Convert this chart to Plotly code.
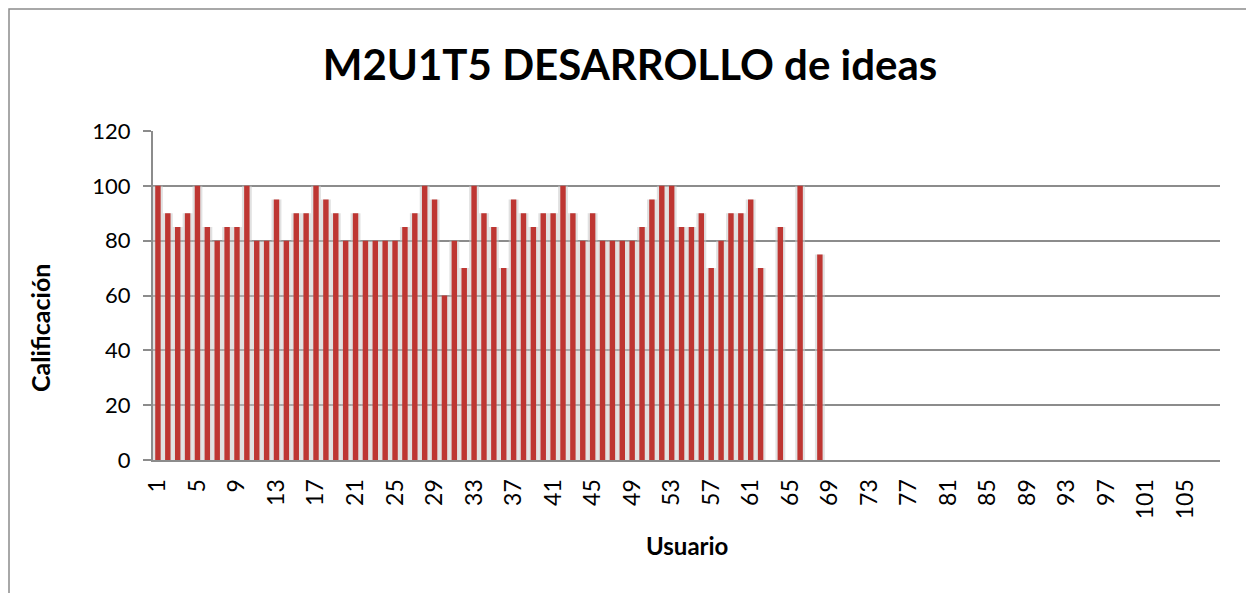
import plotly.graph_objects as go

# Data
usuarios = [str(i) for i in range(1, 109)]
calif_1_62 = [100, 90, 85, 90, 100, 85, 80, 85, 85, 100,
              80, 80, 95, 80, 90, 90, 100, 95, 90, 80,
              90, 80, 80, 80, 80, 85, 90, 100, 95, 60,
              80, 70, 100, 90, 85, 70, 95, 90, 85, 90,
              90, 100, 90, 80, 90, 80, 80, 80, 80, 85,
              95, 100, 100, 85, 85, 90, 70, 80, 90, 90,
              95, 70]
calif_63_68 = [None, 85, None, 100, None, 75]
calificacion = calif_1_62 + calif_63_68 + [None] * (108 - 68)

tick_labels = [str(i) for i in range(1, 109, 4)]

title_text = "M2U1T5 DESARROLLO de ideas"
x_title = "Usuario"
y_title = "Calificación"

font_family = "Lato, 'Open Sans', 'DejaVu Sans', sans-serif"

# page has an 8px body margin: compensate
OFF = 8
W, H = 1254, 593
L, R, T, B = 153 - OFF, 34 + OFF, 131 - OFF, 133 + OFF
PW, PH = W - L - R, H - T - B


def px_x(x):
    return (x - OFF - L) / PW


def px_y(y):
    return (H - B - (y - OFF)) / PH


fig = go.Figure()
# soft shadow behind bars
fig.add_trace(go.Bar(
    x=usuarios, y=calificacion, width=1.0,
    marker=dict(color="rgba(200,200,200,0.55)", line=dict(width=0)),
    hoverinfo="skip", showlegend=False,
))
fig.add_trace(go.Bar(
    x=usuarios, y=calificacion, width=0.55,
    marker=dict(color="#BE3632", line=dict(width=0)),
    showlegend=False,
))

fig.update_layout(
    width=W, height=H,
    margin=dict(l=L, r=R, t=T, b=B, autoexpand=False),
    paper_bgcolor="white", plot_bgcolor="white",
    barmode="overlay",
    font=dict(family=font_family, color="black", size=20),
    title=dict(text=f"<b>{title_text}</b>", x=(630 - OFF) / W, xanchor="center",
               y=1 - (65 - OFF) / H, yanchor="middle",
               font=dict(size=42, family=font_family, color="black")),
    shapes=[dict(type="rect", xref="paper", yref="paper",
                 x0=(1 - L) / PW, x1=1.3, y0=-0.6, y1=(H - B - 1) / PH,
                 line=dict(color="#8C8C8C", width=1.5), fillcolor="rgba(0,0,0,0)",
                 layer="below")],
    annotations=[
        dict(text=f"<b>{x_title}</b>", xref="paper", yref="paper",
             x=px_x(687), y=px_y(545), xanchor="center", yanchor="middle",
             showarrow=False, font=dict(size=24)),
        dict(text=f"<b>{y_title}</b>", xref="paper", yref="paper",
             x=px_x(40), y=px_y(328), xanchor="center", yanchor="middle",
             textangle=-90, showarrow=False, font=dict(size=25)),
    ],
)

fig.update_xaxes(
    type="category", categoryorder="array", categoryarray=usuarios,
    range=[-0.5, 107.5], automargin=False,
    tickmode="array", tickvals=tick_labels, ticktext=tick_labels,
    tickangle=-90, tickfont=dict(size=23), ticklabelstandoff=8,
    showline=True, linecolor="#8C8C8C", linewidth=2,
    showgrid=False, ticks="", ticklen=0,
)
fig.update_yaxes(
    range=[0, 120], tickmode="array", tickvals=[0, 20, 40, 60, 80, 100, 120],
    tickfont=dict(size=22), automargin=False, ticklabelstandoff=8,
    showline=True, linecolor="#8C8C8C", linewidth=2,
    showgrid=True, gridcolor="#8C8C8C", gridwidth=1.5,
    zeroline=False,
    ticks="outside", ticklen=8, tickcolor="#8C8C8C", tickwidth=1.5,
)

fig.write_html("out.html")
